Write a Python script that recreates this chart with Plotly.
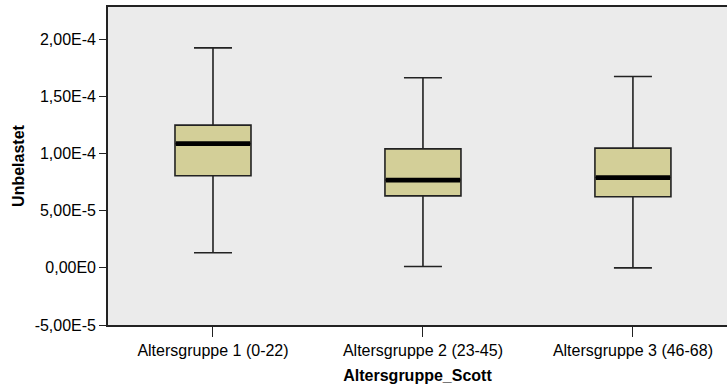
import plotly.graph_objects as go

categories = ["Altersgruppe 1 (0-22)", "Altersgruppe 2 (23-45)", "Altersgruppe 3 (46-68)"]
lower_whisker = [1.31e-5, 1.1e-6, -0.1e-6]
q1 = [8.05e-5, 6.29e-5, 6.21e-5]
median = [1.086e-4, 7.67e-5, 7.89e-5]
q3 = [1.247e-4, 1.040e-4, 1.046e-4]
upper_whisker = [1.923e-4, 1.661e-4, 1.672e-4]

y_tickvals = [-5e-5, 0, 5e-5, 1e-4, 1.5e-4, 2e-4]
y_ticktext = ["-5,00E-5", "0,00E0", "5,00E-5", "1,00E-4", "1,50E-4", "2,00E-4"]

x_title = "Altersgruppe_Scott"
y_title = "Unbelastet"

box_width = 0.362
xpos = list(range(len(categories)))

FONT = "Liberation Sans, Arial, sans-serif"

fig = go.Figure()
fig.add_trace(go.Box(
    x=xpos, q1=q1, median=median, q3=q3,
    lowerfence=lower_whisker, upperfence=upper_whisker,
    width=box_width, whiskerwidth=0.5,
    fillcolor="#D3CF98",
    line=dict(color="#222222", width=1.6),
    boxpoints=False, hoverinfo="skip", showlegend=False,
))

mx, my = [], []
for i, m in zip(xpos, median):
    mx += [i - box_width / 2 + 0.004, i + box_width / 2 - 0.004, None]
    my += [m, m, None]
fig.add_trace(go.Scatter(x=mx, y=my, mode="lines",
                         line=dict(color="#000000", width=4.8),
                         hoverinfo="skip", showlegend=False))

fig.update_layout(
    width=727, height=387,
    margin=dict(l=108, r=0, t=7, b=62),
    paper_bgcolor="white", plot_bgcolor="#EBEBEB",
    font=dict(family=FONT, size=16, color="black"),
    showlegend=False,
)
fig.update_xaxes(
    range=[-0.5, 2.448], tickvals=xpos, ticktext=categories,
    showgrid=False, zeroline=False,
    showline=True, linecolor="#222222", linewidth=1.6, mirror=True,
    ticks="outside", ticklen=10, tickcolor="#222222", tickwidth=1.3,
    tickfont=dict(family=FONT, size=16, color="black"),
    title=dict(text="<b>" + x_title + "</b>", font=dict(family=FONT, size=16, color="black"), standoff=12),
)
fig.update_yaxes(
    range=[-5e-5, 2.28e-4], tickvals=y_tickvals, ticktext=y_ticktext,
    showgrid=False, zeroline=False,
    showline=True, linecolor="#222222", linewidth=1.6,
    ticks="outside", ticklen=7, tickcolor="#222222", tickwidth=1.3,
    tickfont=dict(family=FONT, size=16, color="black"),
    title=dict(text="<b>" + y_title + "</b>", font=dict(family=FONT, size=16, color="black"), standoff=6),
)

fig.write_html("out.html")
